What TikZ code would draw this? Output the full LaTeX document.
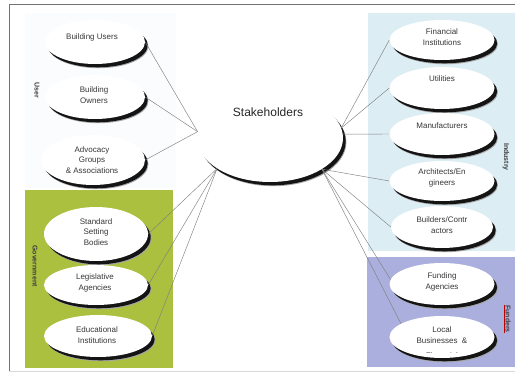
\documentclass[tikz,border=0pt]{standalone}
\usepackage{fontspec}
\setmainfont{Liberation Sans}
\usetikzlibrary{shapes.geometric,calc}

\definecolor{govgreen}{RGB}{170,192,62}
\definecolor{indblue}{RGB}{220,237,244}
\definecolor{fundblue}{RGB}{170,175,221}
\definecolor{userhaze}{RGB}{250,252,254}
\definecolor{inktext}{RGB}{55,55,55}

% white bubble with a dark offset crescent: name, centre, x radius, y radius
\newcommand\bubblenode[4]{%
  \fill[black!35] ($(#2)+(3.4,4.2)$) ellipse [x radius=#3, y radius=#4];
  \fill[black!92] ($(#2)+(2.7,3.3)$) ellipse [x radius=#3, y radius=#4];
  \node[bubble, minimum width={2*#3pt}, minimum height={2*#4pt}] (#1) at (#2) {};
}

\begin{document}
\begin{tikzpicture}[x=1pt,y=-1pt,
  bubble/.style={ellipse, fill=white, draw=none, inner sep=0pt},
  txt/.style={font=\fontsize{8}{10.8}\selectfont, text=inktext, align=center, inner sep=0pt},
  side/.style={font=\fontsize{7}{8}\selectfont\bfseries, text=black!75, rotate=-90, inner sep=0pt},
  conn/.style={draw=black!50, line width=0.45pt},
  frame/.style={draw=black!55, line width=1pt}]

\useasboundingbox (0,0) rectangle (515,374);

% group backgrounds
\fill[userhaze] (25,13) rectangle (176,188);
\fill[govgreen] (25,190) rectangle (173,368);
\fill[indblue] (368,13) rectangle (515,251);
\fill[fundblue] (367,257) rectangle (515,367);

% page frame
\draw[frame] (515,5) -- (9,5) -- (9,372);
\draw[draw=black!15, line width=0.8pt] (9,371) -- (515,371);

% central bubble
\bubblenode{stake}{270,138}{73}{44}
\node[font=\fontsize{12}{14}\selectfont, text=black!85, inner sep=0pt] (stake-t) at (268,112) {Stakeholders};

% user group
\bubblenode{users}{95,42}{50}{22}
\node[txt] (users-t) at (92,37) {Building Users};
\bubblenode{owners}{95,97}{50}{22}
\node[txt] (owners-t) at (94,95) {Building\\Owners};
\bubblenode{advocacy}{93,160}{52}{25}
\node[txt] (advocacy-t) at (92,160) {Advocacy\\Groups\\\& Associations};

% government group
\bubblenode{standard}{96,234}{52}{27}
\node[txt] (standard-t) at (96,232) {Standard\\Setting\\Bodies};
\bubblenode{legis}{96,285}{52}{20}
\node[txt] (legis-t) at (95,283) {Legislative\\Agencies};
\bubblenode{educ}{98,336}{54}{21}
\node[txt] (educ-t) at (97,335) {Educational\\Institutions};

% industry group
\bubblenode{fin}{442,40}{52.5}{20}
\node[txt] (fin-t) at (442,37) {Financial\\Institutions};
\bubblenode{util}{442,88}{52.5}{21}
\node[txt] (util-t) at (442,79) {Utilities};
\bubblenode{manu}{442,134}{52.5}{21}
\node[txt] (manu-t) at (442,126) {Manufacturers};
\bubblenode{arch}{442,181}{52.5}{20}
\node[txt] (arch-t) at (442,178) {Architects/En\\gineers};
\bubblenode{build}{442,227}{51}{21}
\node[txt] (build-t) at (442,225) {Builders/Contr\\actors};

% funders group
\bubblenode{fund}{442,284}{52.5}{21}
\node[txt] (fund-t) at (442,282) {Funding\\Agencies};
\bubblenode{local}{442,337}{52.5}{21}
\node[txt] (local-t) at (442,335) {Local\\Businesses \ \&};
\begin{scope}
  \clip (390,345) rectangle (495,352.5);
  \node[txt] (local-x) at (442,356) {Financial};
\end{scope}

% group labels
\node[side] (user-l) at (37,90) {User};
\node[side] (gov-l) at (35,266) {Government};
\node[side] (ind-l) at (506,157) {Industry};
\node[side] (fund-l) at (508,319) {Funders};
\draw[red!75!black, line width=0.35pt] ([xshift=-0.8pt]fund-l.south west) -- ([xshift=-0.8pt]fund-l.south east);

% connectors
\draw[conn] (users.east) -- (stake.175);
\draw[conn] (owners.east) -- (stake.175);
\draw[conn] (advocacy.east) -- (stake.175);
\draw[conn] (standard.east) -- (stake.210);
\draw[conn] (legis.east) -- (stake.210);
\draw[conn] (educ.east) -- (stake.210);
\draw[conn] (fin.west) -- (stake.8);
\draw[conn] (util.west) -- (stake.8);
\draw[conn] (manu.west) -- (stake.3);
\draw[conn] (arch.west) -- (stake.-31);
\draw[conn] (build.west) -- (stake.-31);
\draw[conn] (fund.175) -- (stake.-31);
\draw[conn] (local.162) -- (stake.-31);

\end{tikzpicture}
\end{document}
